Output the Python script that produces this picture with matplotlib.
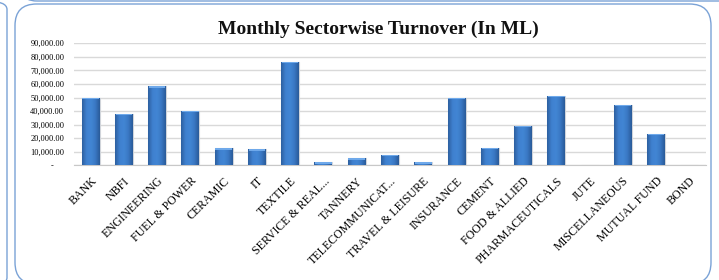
import matplotlib
matplotlib.use("Agg")
import matplotlib.pyplot as plt
import numpy as np
from matplotlib.patches import FancyBboxPatch
from matplotlib.colors import LinearSegmentedColormap
from matplotlib.ticker import FixedLocator, FuncFormatter

categories = ["BANK", "NBFI", "ENGINEERING", "FUEL & POWER", "CERAMIC", "IT",
              "TEXTILE", "SERVICE & REAL...", "TANNERY", "TELECOMMUNICAT...",
              "TRAVEL & LEISURE", "INSURANCE", "CEMENT", "FOOD & ALLIED",
              "PHARMACEUTICALS", "JUTE", "MISCELLANEOUS", "MUTUAL FUND", "BOND"]
turnover = [49800, 38100, 58300, 40300, 12500, 11800,
            76500, 2400, 5200, 7600,
            2400, 49900, 12800, 29200,
            51400, 300, 44500, 23300, 0]
yticks = [0, 10000, 20000, 30000, 40000, 50000, 60000, 70000, 80000, 90000]
title = "Monthly Sectorwise Turnover (In ML)"

serif = ["Liberation Serif", "DejaVu Serif"]

fig = plt.figure(figsize=(7.19, 2.80), dpi=100)
W, H = 719, 280

def fx(px):
    return px / W

def fy(py):
    return 1 - py / H

border = "#7aa2d6"
# left panel edge (partial)
fig.add_artist(FancyBboxPatch((fx(-60), fy(286)), fx(67), fy(1) - fy(286),
                              boxstyle="round,pad=0,rounding_size=0.03",
                              transform=fig.transFigure, fill=False,
                              edgecolor=border, lw=1.0, clip_on=False))
# top panel edge (partial)
fig.add_artist(FancyBboxPatch((fx(15), fy(1)), fx(760), fy(-40) - fy(1),
                              boxstyle="round,pad=0,rounding_size=0.03",
                              transform=fig.transFigure, fill=False,
                              edgecolor=border, lw=1.0, clip_on=False))
# main chart box
fig.add_artist(FancyBboxPatch((fx(15), fy(284)), fx(711) - fx(15), fy(4) - fy(284),
                              boxstyle="round,pad=0,rounding_size=0.03",
                              transform=fig.transFigure, fill=False,
                              edgecolor=border, lw=1.0, clip_on=False,
                              mutation_aspect=W / H))

ax = fig.add_axes([fx(74), fy(165.3), fx(706) - fx(74), fy(43.3) - fy(165.3)])
ax.set_facecolor("none")
x = np.arange(len(categories))
ax.set_xlim(-0.5, len(categories) - 0.5)
ax.set_ylim(0, 90000)

ax.yaxis.set_major_locator(FixedLocator(yticks))
ax.yaxis.set_major_formatter(FuncFormatter(lambda v, p: "-     " if v == 0 else f"{v:,.2f}"))
ax.grid(axis="y", color="#d9d9d9", lw=1.0, zorder=0)
ax.set_axisbelow(True)
for s in ["top", "right", "left"]:
    ax.spines[s].set_visible(False)
ax.spines["bottom"].set_color("#c8c8c8")
ax.tick_params(axis="y", length=0, pad=7, labelsize=6)
ax.tick_params(axis="x", length=0, pad=7, labelsize=8.6)
for t in ax.get_yticklabels():
    t.set_fontfamily(serif)

bars = ax.bar(x, turnover, width=0.54, color="#3d7cc9", edgecolor="#d0d4da",
              linewidth=0.8, zorder=3)

cmap = LinearSegmentedColormap.from_list(
    "bev", ["#2d5f9f", "#3f80cf", "#4286d4", "#3a78c4", "#2a5a98"])
grad = np.linspace(0, 1, 64).reshape(1, -1)
for b in bars:
    bx, by = b.get_x(), b.get_y()
    bw, bh = b.get_width(), b.get_height()
    if bh <= 0:
        continue
    im = ax.imshow(grad, cmap=cmap, aspect="auto", extent=[bx, bx + bw, by, by + bh],
                   zorder=4, interpolation="bicubic")
    im.set_clip_path(b)
    cap = min(bh, 1100)
    ax.bar(bx + bw / 2, cap, bottom=by + bh - cap, width=bw * 0.92,
           color="#6fa9ea", edgecolor="none", zorder=5)
ax.set_xlim(-0.5, len(categories) - 0.5)
ax.set_ylim(0, 90000)

ax.set_xticks(x)
ax.set_xticklabels(categories, rotation=45, ha="right", va="top",
                   rotation_mode="anchor", fontfamily=serif)

fig.text(fx(378), fy(29), title, ha="center", va="center", fontsize=14,
         fontweight="bold", fontfamily=serif, color="#111111")

fig.savefig("out.png", dpi=100)
